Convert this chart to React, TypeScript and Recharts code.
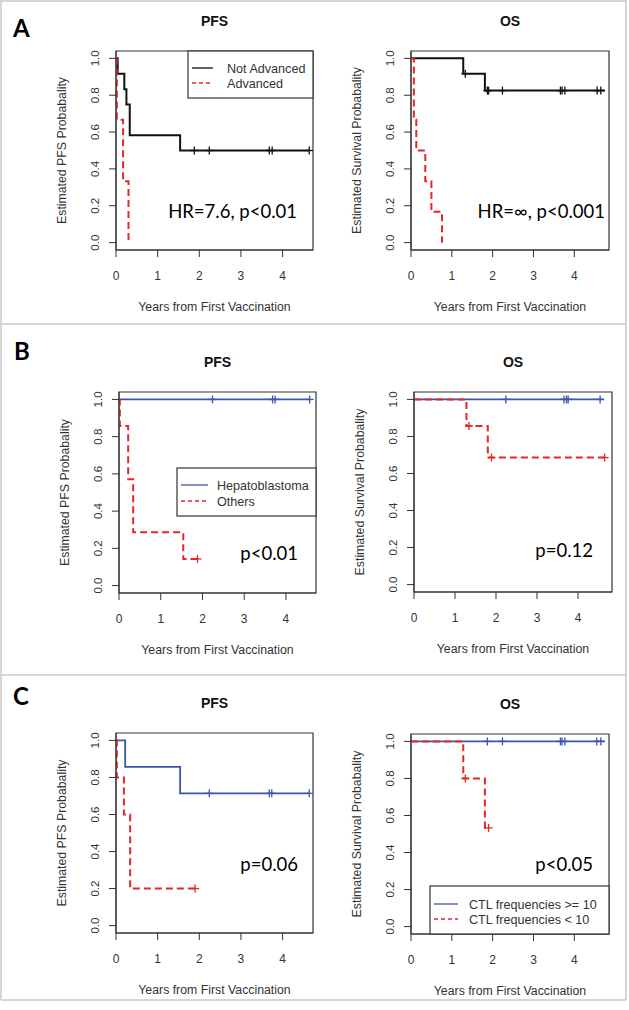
import React from "react";
import { ComposedChart, Line, XAxis, YAxis, ReferenceArea } from "recharts";

const FONT = '"Liberation Sans", Arial, Helvetica, sans-serif';
const CAL = 'Lato, "Open Sans", sans-serif';
const BLACK = "#111111";
const RED = "#e4262b";
const BLUE = "#3d56a6";
const AXIS = "#333333";

const xTicks = [0, 1, 2, 3, 4];
const yTicks = [0, 0.2, 0.4, 0.6, 0.8, 1.0];

// ---- A: stage ----
const aPfsNotAdvT = [0, 0.04, 0.2, 0.25, 0.33, 1.54, 4.65];
const aPfsNotAdvS = [1, 0.917, 0.833, 0.75, 0.583, 0.5, 0.5];
const aPfsNotAdvCens = [1.88, 2.24, 3.68, 3.75, 4.64];
const aPfsAdvT = [0, 0.02, 0.17, 0.3];
const aPfsAdvS = [1, 0.667, 0.333, 0];
const aPfsAdvCens: number[] = [];

const aOsNotAdvT = [0, 1.28, 1.81, 4.75];
const aOsNotAdvS = [1, 0.917, 0.825, 0.825];
const aOsNotAdvCens = [1.33, 1.87, 1.9, 2.24, 3.66, 3.7, 3.77, 4.56, 4.65];
const aOsAdvT = [0, 0.07, 0.13, 0.35, 0.5, 0.76];
const aOsAdvS = [1, 0.667, 0.5, 0.333, 0.167, 0];
const aOsAdvCens: number[] = [];

// ---- B: histology ----
const bPfsHepT = [0, 4.57];
const bPfsHepS = [1, 1];
const bPfsHepCens = [2.24, 3.68, 3.74, 4.57];
const bPfsOthT = [0, 0.02, 0.22, 0.34, 1.54, 1.88];
const bPfsOthS = [1, 0.857, 0.571, 0.286, 0.143, 0.143];
const bPfsOthCens = [1.88];

const bOsHepT = [0, 4.63];
const bOsHepS = [1, 1];
const bOsHepCens = [2.24, 3.66, 3.72, 3.76, 4.54];
const bOsOthT = [0, 1.28, 1.8, 4.65];
const bOsOthS = [1, 0.857, 0.686, 0.686];
const bOsOthCens = [1.34, 1.89, 4.65];

// ---- C: CTL frequencies ----
const cPfsHiT = [0, 0.22, 1.54, 4.64];
const cPfsHiS = [1, 0.857, 0.714, 0.714];
const cPfsHiCens = [2.24, 3.68, 3.74, 4.64];
const cPfsLoT = [0, 0.02, 0.19, 0.34, 1.9];
const cPfsLoS = [1, 0.8, 0.6, 0.2, 0.2];
const cPfsLoCens = [1.9];

const cOsHiT = [0, 4.75];
const cOsHiS = [1, 1];
const cOsHiCens = [1.87, 2.24, 3.66, 3.7, 3.77, 4.55, 4.65];
const cOsLoT = [0, 1.28, 1.81, 1.9];
const cOsLoS = [1, 0.8, 0.533, 0.533];
const cOsLoCens = [1.33, 1.9];

type Curve = {
  t: number[];
  s: number[];
  cens: number[];
  color: string;
  width: number;
  dash?: string;
};

const zip = (t: number[], s: number[]) => t.map((v, i) => ({ t: v, s: s[i] }));

// value of the step curve at time x
function survAt(x: number, t: number[], s: number[]) {
  let v = s[0];
  for (let i = 0; i < t.length; i++) if (t[i] <= x) v = s[i];
  return v;
}

function YTick(props: any) {
  const { x, y, payload } = props;
  const bx = x - 8;
  return (
    <text x={bx} y={y} transform={`rotate(-90 ${bx} ${y})`} textAnchor="middle" fontSize={11.5} fill={AXIS} fontFamily={FONT}>
      {Number(payload.value).toFixed(1)}
    </text>
  );
}

const plusDot = (color: string) => (props: any) => {
  const { cx, cy, index } = props;
  if (cx == null || cy == null) return <g key={`p${index}`} />;
  return (
    <g key={`p${index}`}>
      <line x1={cx} x2={cx} y1={cy - 4} y2={cy + 4} stroke={color} strokeWidth={1.3} />
      <line x1={cx - 4} x2={cx + 4} y1={cy} y2={cy} stroke={color} strokeWidth={1.3} />
    </g>
  );
};

type Box = { l: number; t: number; r: number; b: number };

function KMPlot({ box, xMax, curves }: { box: Box; xMax: number; curves: Curve[] }) {
  const W = box.r - box.l + 70;
  const H = box.b - box.t + 55;
  return (
    <div style={{ position: "absolute", left: box.l - 60, top: box.t - 10 }}>
      <ComposedChart width={W} height={H} margin={{ top: 10, right: 10, bottom: 15, left: 30 }}>
        <XAxis
          type="number"
          dataKey="t"
          domain={[0, xMax]}
          ticks={xTicks}
          allowDataOverflow
          tickSize={7}
          tickMargin={14}
          height={30}
          stroke={AXIS}
          tick={{ fontSize: 12, fill: AXIS, fontFamily: FONT }}
        />
        <YAxis
          type="number"
          dataKey="s"
          domain={[-0.04, 1.04]}
          ticks={yTicks}
          allowDataOverflow
          tickSize={7}
          tickMargin={2}
          width={30}
          stroke={AXIS}
          tick={<YTick />}
        />
        <ReferenceArea x1={0} x2={xMax} y1={-0.04} y2={1.04} fill="none" stroke={AXIS} strokeWidth={1.2} />
        {curves.map((c, i) => (
          <Line
            key={`l${i}`}
            data={zip(c.t, c.s)}
            dataKey="s"
            type="stepAfter"
            stroke={c.color}
            strokeWidth={c.width}
            strokeDasharray={c.dash}
            dot={false}
            activeDot={false}
            isAnimationActive={false}
          />
        ))}
        {curves.map((c, i) => (
          <Line
            key={`c${i}`}
            data={c.cens.map((x) => ({ t: x, s: survAt(x, c.t, c.s) }))}
            dataKey="s"
            stroke="none"
            dot={plusDot(c.color)}
            activeDot={false}
            isAnimationActive={false}
          />
        ))}
      </ComposedChart>
    </div>
  );
}

const DASH = "7 4";

const plots: { box: Box; xMax: number; title: string; ylab: string; note: string; curves: Curve[] }[] = [
  {
    box: { l: 116, t: 51, r: 313, b: 250 },
    xMax: 4.73,
    title: "PFS",
    ylab: "Estimated PFS  Probabality",
    note: "HR=7.6, p<0.01",
    curves: [
      { t: aPfsNotAdvT, s: aPfsNotAdvS, cens: aPfsNotAdvCens, color: BLACK, width: 2 },
      { t: aPfsAdvT, s: aPfsAdvS, cens: aPfsAdvCens, color: RED, width: 2, dash: DASH },
    ],
  },
  {
    box: { l: 411, t: 51, r: 609, b: 250 },
    xMax: 4.85,
    title: "OS",
    ylab: "Estimated Survival Probabality",
    note: "HR=\u221e, p<0.001",
    curves: [
      { t: aOsNotAdvT, s: aOsNotAdvS, cens: aOsNotAdvCens, color: BLACK, width: 2 },
      { t: aOsAdvT, s: aOsAdvS, cens: aOsAdvCens, color: RED, width: 2, dash: DASH },
    ],
  },
  {
    box: { l: 119, t: 392, r: 316, b: 593 },
    xMax: 4.72,
    title: "PFS",
    ylab: "Estimated PFS  Probabality",
    note: "p<0.01",
    curves: [
      { t: bPfsHepT, s: bPfsHepS, cens: bPfsHepCens, color: BLUE, width: 1.8 },
      { t: bPfsOthT, s: bPfsOthS, cens: bPfsOthCens, color: RED, width: 2, dash: DASH },
    ],
  },
  {
    box: { l: 414, t: 392, r: 612, b: 592 },
    xMax: 4.83,
    title: "OS",
    ylab: "Estimated Survival Probabality",
    note: "p=0.12",
    curves: [
      { t: bOsHepT, s: bOsHepS, cens: bOsHepCens, color: BLUE, width: 1.8 },
      { t: bOsOthT, s: bOsOthS, cens: bOsOthCens, color: RED, width: 2, dash: DASH },
    ],
  },
  {
    box: { l: 116, t: 733, r: 313, b: 933 },
    xMax: 4.73,
    title: "PFS",
    ylab: "Estimated PFS  Probabality",
    note: "p=0.06",
    curves: [
      { t: cPfsHiT, s: cPfsHiS, cens: cPfsHiCens, color: BLUE, width: 1.8 },
      { t: cPfsLoT, s: cPfsLoS, cens: cPfsLoCens, color: RED, width: 2, dash: DASH },
    ],
  },
  {
    box: { l: 411, t: 734, r: 609, b: 934 },
    xMax: 4.85,
    title: "OS",
    ylab: "Estimated Survival Probabality",
    note: "p<0.05",
    curves: [
      { t: cOsHiT, s: cOsHiS, cens: cOsHiCens, color: BLUE, width: 1.8 },
      { t: cOsLoT, s: cOsLoS, cens: cOsLoCens, color: RED, width: 2, dash: DASH },
    ],
  },
];

// note positions: right edge x, baseline y
const notePos = [
  [297, 218],
  [605, 218],
  [298, 560],
  [593, 557],
  [298, 871],
  [593, 871],
];

const legends = [
  { l: 188, t: 51, r: 313, b: 98, lx1: 192, lx2: 213, tx: 227, rows: [68, 83], labels: ["Not Advanced", "Advanced"], colors: [BLACK, RED] },
  { l: 177, t: 468, r: 316, b: 516, lx1: 181, lx2: 208, tx: 217, rows: [485, 501], labels: ["Hepatoblastoma", "Others"], colors: [BLUE, RED] },
  { l: 430, t: 886, r: 609, b: 934, lx1: 434, lx2: 458, tx: 469, rows: [904, 919], labels: ["CTL frequencies >= 10", "CTL frequencies < 10"], colors: [BLUE, RED] },
];

const panelLetters = [
  { label: "A", x: 13, y: 37 },
  { label: "B", x: 14, y: 360 },
  { label: "C", x: 13, y: 705 },
];

export default function App() {
  return (
    <div style={{ position: "absolute", left: 0, top: 0, width: 629, height: 1010, background: "#fff", overflow: "hidden" }}>
      {plots.map((p, i) => (
        <KMPlot key={i} box={p.box} xMax={p.xMax} curves={p.curves} />
      ))}
      <svg width={629} height={1010} style={{ position: "absolute", left: 0, top: 0, pointerEvents: "none" }}>
        {/* panel frames */}
        <g stroke="#c8c8c8" strokeWidth={1.5} fill="none">
          <line x1={1} x2={1} y1={0} y2={1000} />
          <line x1={626} x2={626} y1={0} y2={1000} />
          <line x1={1} x2={626} y1={1} y2={1} />
          <line x1={1} x2={626} y1={324} y2={324} />
          <line x1={1} x2={626} y1={675} y2={675} />
          <line x1={1} x2={626} y1={1000} y2={1000} />
        </g>
        {panelLetters.map((p) => (
          <text key={p.label} x={p.x} y={p.y} fontFamily={CAL} fontWeight={700} fontSize={24} fill="#000">
            {p.label}
          </text>
        ))}
        {plots.map((p, i) => {
          const cx = (p.box.l + p.box.r) / 2;
          const cy = (p.box.t + p.box.b) / 2;
          const yx = p.box.l - 50;
          return (
            <g key={i}>
              <text x={cx} y={p.box.t - 25.5} textAnchor="middle" fontFamily={FONT} fontWeight={700} fontSize={14} fill="#111">
                {p.title}
              </text>
              <text x={cx} y={p.box.b + 61} textAnchor="middle" fontFamily={FONT} fontSize={12.3} fill={AXIS}>
                Years from First Vaccination
              </text>
              <text x={yx} y={cy} transform={`rotate(-90 ${yx} ${cy})`} textAnchor="middle" fontFamily={FONT} fontSize={12.3} fill={AXIS}>
                {p.ylab}
              </text>
              <text x={notePos[i][0]} y={notePos[i][1]} textAnchor="end" fontFamily={CAL} fontSize={18.5} fill="#000">
                {p.note}
              </text>
            </g>
          );
        })}
        {legends.map((lg, i) => (
          <g key={i}>
            <rect x={lg.l} y={lg.t} width={lg.r - lg.l} height={lg.b - lg.t} fill="#fff" stroke={AXIS} strokeWidth={1.2} />
            {lg.labels.map((lab, j) => (
              <g key={j}>
                <line
                  x1={lg.lx1}
                  x2={lg.lx2}
                  y1={lg.rows[j]}
                  y2={lg.rows[j]}
                  stroke={lg.colors[j]}
                  strokeWidth={1.3}
                  strokeDasharray={j === 1 ? "4 3" : undefined}
                />
                <text x={lg.tx} y={lg.rows[j] + 4.5} fontFamily={FONT} fontSize={12.6} fill={AXIS}>
                  {lab}
                </text>
              </g>
            ))}
          </g>
        ))}
      </svg>
    </div>
  );
}
